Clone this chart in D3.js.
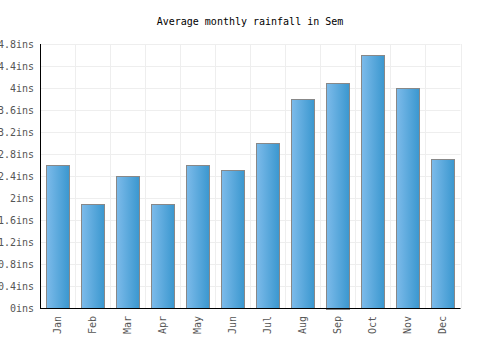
<!DOCTYPE html>
<html>
<head>
<meta charset="utf-8">
<script src="https://cdn.jsdelivr.net/npm/d3@7"></script>
<style>
  body { margin: 0; background: #fff; }
  text { font-family: "DejaVu Sans Mono", monospace; }
</style>
</head>
<body>
<svg id="chart"></svg>
<script>
// Average monthly rainfall in Sem
const months = ["Jan","Feb","Mar","Apr","May","Jun","Jul","Aug","Sep","Oct","Nov","Dec"];
const rainfall = [2.6, 1.9, 2.4, 1.9, 2.6, 2.5, 3.0, 3.8, 4.1, 4.6, 4.0, 2.7];
const yTicks = [0, 0.4, 0.8, 1.2, 1.6, 2, 2.4, 2.8, 3.2, 3.6, 4, 4.4, 4.8];

const svg_w = 500;
const svg_h = 350;
const margin = {l: 40, r: 39.5, t: 44, b: 42};
const viz_w = svg_w - margin.l - margin.r;
const viz_h = svg_h - margin.t - margin.b;

let svg = d3.select("#chart")
  .attr("width", svg_w)
  .attr("height", svg_h);

// degradado de las barras
let grad = svg.append("defs").append("linearGradient")
  .attr("id", "barGrad")
  .attr("x1", "0%").attr("x2", "100%")
  .attr("y1", "0%").attr("y2", "0%");
grad.append("stop").attr("offset", "0%").attr("stop-color", "#7dbbea");
grad.append("stop").attr("offset", "100%").attr("stop-color", "#3a97cf");

let x_scale = d3.scaleBand()
  .domain(months)
  .range([0, viz_w]);

let y_scale = d3.scaleLinear()
  .domain([0, 4.8])
  .range([viz_h, 0]);

let g = svg.append("g")
  .attr("transform", `translate(${margin.l},${margin.t})`);

// rejilla
g.append("g")
  .selectAll("line")
  .data(yTicks)
  .enter().append("line")
  .attr("x1", 0).attr("x2", viz_w)
  .attr("y1", d => Math.round(y_scale(d)) + 0.5)
  .attr("y2", d => Math.round(y_scale(d)) + 0.5)
  .attr("stroke", "#eeeeee");

g.append("g")
  .selectAll("line")
  .data(months)
  .enter().append("line")
  .attr("x1", d => Math.round(x_scale(d) + x_scale.bandwidth()) + 0.5)
  .attr("x2", d => Math.round(x_scale(d) + x_scale.bandwidth()) + 0.5)
  .attr("y1", 0).attr("y2", viz_h)
  .attr("stroke", "#eeeeee");

// barras
const barW = x_scale.bandwidth() * 0.66;
g.append("g")
  .selectAll("rect")
  .data(rainfall)
  .enter().append("rect")
  .attr("x", (d, i) => Math.round(x_scale(months[i]) + (x_scale.bandwidth() - barW) / 2) + 0.5)
  .attr("y", d => Math.round(y_scale(d)) + 0.5)
  .attr("width", Math.round(barW))
  .attr("height", d => Math.round(viz_h - y_scale(d)))
  .attr("fill", "url(#barGrad)")
  .attr("stroke", "#888888")
  .attr("stroke-width", 1);

// ejes
let yAxis = g.append("g")
  .call(d3.axisLeft(y_scale).tickValues(yTicks).tickSize(0).tickPadding(6).tickFormat(d => d + "ins"));
yAxis.select(".domain").remove();
yAxis.selectAll("text")
  .attr("fill", "#555")
  .style("font-size", "10px");

let xAxis = g.append("g")
  .attr("transform", `translate(0,${viz_h})`)
  .call(d3.axisBottom(x_scale).tickSize(0).tickPadding(0));
xAxis.select(".domain").remove();
xAxis.selectAll("text")
  .attr("fill", "#555")
  .style("font-size", "10px")
  .attr("text-anchor", "end")
  .attr("transform", "rotate(-90)")
  .attr("x", -8)
  .attr("y", 0)
  .attr("dy", "0.35em");

g.append("line")
  .attr("x1", 0.5).attr("x2", 0.5)
  .attr("y1", 0).attr("y2", viz_h)
  .attr("stroke", "#000");
g.append("line")
  .attr("x1", 0).attr("x2", viz_w)
  .attr("y1", viz_h + 0.5).attr("y2", viz_h + 0.5)
  .attr("stroke", "#000");

// título
svg.append("text")
  .attr("x", svg_w / 2)
  .attr("y", 25)
  .attr("text-anchor", "middle")
  .attr("fill", "#000")
  .style("font-size", "10px")
  .text("Average monthly rainfall in Sem");
</script>
</body>
</html>
